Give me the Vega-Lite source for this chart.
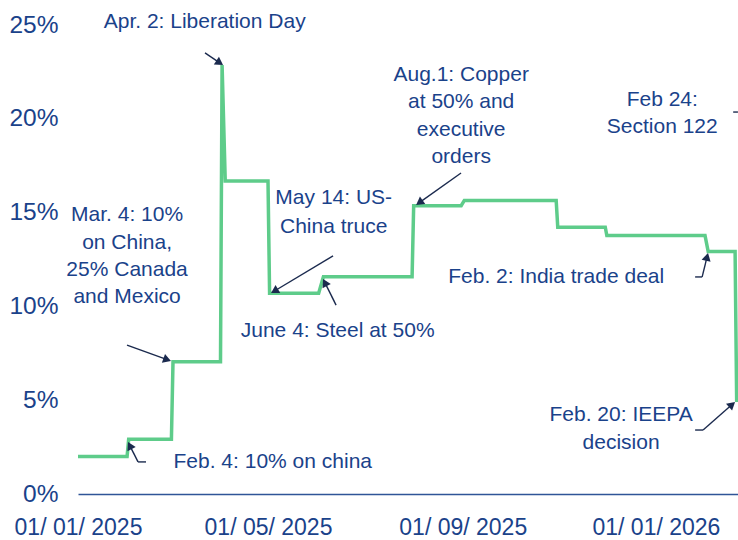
{
  "$schema": "https://vega.github.io/schema/vega-lite/v6.json",
  "width": 660,
  "height": 469,
  "autosize": {"type": "none"},
  "padding": {"left": 78, "top": 25, "right": 0, "bottom": 46},
  "background": "white",
  "config": {"view": {"stroke": null}, "font": "Liberation Sans"},
  "datasets": {
    "series": [
      {"date": "2025-01-01", "value": 2.0},
      {"date": "2025-02-01", "value": 2.0},
      {"date": "2025-02-02", "value": 2.92},
      {"date": "2025-03-01", "value": 2.92},
      {"date": "2025-03-02", "value": 7.05},
      {"date": "2025-04-01", "value": 7.05},
      {"date": "2025-04-02", "value": 22.87},
      {"date": "2025-04-04", "value": 16.68},
      {"date": "2025-05-01", "value": 16.68},
      {"date": "2025-05-02", "value": 10.70},
      {"date": "2025-06-02", "value": 10.70},
      {"date": "2025-06-05", "value": 11.58},
      {"date": "2025-07-31", "value": 11.58},
      {"date": "2025-08-01", "value": 15.37},
      {"date": "2025-08-31", "value": 15.37},
      {"date": "2025-09-02", "value": 15.65},
      {"date": "2025-10-30", "value": 15.65},
      {"date": "2025-10-31", "value": 14.22},
      {"date": "2025-11-30", "value": 14.22},
      {"date": "2025-12-01", "value": 13.78},
      {"date": "2026-02-01", "value": 13.78},
      {"date": "2026-02-03", "value": 12.92},
      {"date": "2026-02-20", "value": 12.92},
      {"date": "2026-02-21", "value": 4.90}
    ],
    "arrows": [
      {"date": "2025-03-22T05:00:00Z", "value": 23.51, "date2": "2025-03-31T12:00:00Z", "value2": 22.98},
      {"date": "2025-01-31T23:00:00Z", "value": 7.94, "date2": "2025-02-26T08:00:00Z", "value2": 7.16},
      {"date": "2025-02-12T23:00:00Z", "value": 1.71, "date2": "2025-02-07T22:00:00Z", "value2": 1.71},
      {"date": "2025-02-07T22:00:00Z", "value": 1.71, "date2": "2025-02-02T17:00:00Z", "value2": 2.58},
      {"date": "2025-06-11T02:00:00Z", "value": 12.69, "date2": "2025-05-05T02:00:00Z", "value2": 10.82},
      {"date": "2025-06-13T00:00:00Z", "value": 10.07, "date2": "2025-06-05T22:00:00Z", "value2": 11.27},
      {"date": "2025-08-30T22:00:00Z", "value": 17.11, "date2": "2025-08-04T14:00:00Z", "value2": 15.53},
      {"date": "2026-01-25T18:00:00Z", "value": 11.57, "date2": "2026-01-30T05:00:00Z", "value2": 11.57},
      {"date": "2026-01-30T05:00:00Z", "value": 11.57, "date2": "2026-02-02T07:00:00Z", "value2": 12.64},
      {"date": "2026-01-25T18:00:00Z", "value": 3.41, "date2": "2026-01-30T19:00:00Z", "value2": 3.41},
      {"date": "2026-01-30T19:00:00Z", "value": 3.41, "date2": "2026-02-18T02:00:00Z", "value2": 4.77},
      {"date": "2026-02-18T19:00:00Z", "value": 20.36, "date2": "2026-02-21T19:00:00Z", "value2": 20.36}
    ],
    "heads": [
      {"n": 1, "date": "2025-03-31T12:00:00Z", "value": 22.98},
      {"n": 2, "date": "2025-02-26T08:00:00Z", "value": 7.16},
      {"n": 3, "date": "2025-02-02T17:00:00Z", "value": 2.58},
      {"n": 4, "date": "2025-05-05T02:00:00Z", "value": 10.82},
      {"n": 5, "date": "2025-06-05T22:00:00Z", "value": 11.27},
      {"n": 6, "date": "2025-08-04T14:00:00Z", "value": 15.53},
      {"n": 7, "date": "2026-02-02T07:00:00Z", "value": 12.64},
      {"n": 8, "date": "2026-02-18T02:00:00Z", "value": 4.77}
    ],
    "labels": [
      {"date": "2025-03-22", "value": 25.16, "label": "Apr. 2: Liberation Day"},
      {"date": "2025-02-01", "value": 14.87, "label": "Mar. 4: 10%"},
      {"date": "2025-02-01", "value": 13.38, "label": "on China,"},
      {"date": "2025-02-01", "value": 11.94, "label": "25% Canada"},
      {"date": "2025-02-01", "value": 10.50, "label": "and Mexico"},
      {"date": "2025-06-11T12:00:00Z", "value": 15.78, "label": "May 14: US-"},
      {"date": "2025-06-11T12:00:00Z", "value": 14.25, "label": "China truce"},
      {"date": "2025-08-31", "value": 22.33, "label": "Aug.1: Copper"},
      {"date": "2025-08-31", "value": 20.91, "label": "at 50% and"},
      {"date": "2025-08-31", "value": 19.40, "label": "executive"},
      {"date": "2025-08-31", "value": 17.98, "label": "orders"},
      {"date": "2026-01-05", "value": 21.0, "label": "Feb 24:"},
      {"date": "2026-01-05", "value": 19.58, "label": "Section 122"},
      {"date": "2025-10-30", "value": 11.58, "label": "Feb. 2: India trade deal"},
      {"date": "2025-06-14", "value": 8.71, "label": "June 4: Steel at 50%"},
      {"date": "2025-05-04", "value": 1.72, "label": "Feb. 4: 10% on china"},
      {"date": "2025-12-10", "value": 4.21, "label": "Feb. 20: IEEPA"},
      {"date": "2025-12-10", "value": 2.72, "label": "decision"}
    ]
  },
  "encoding": {
    "x": {
      "field": "date",
      "type": "temporal",
      "scale": {
        "type": "utc",
        "domain": [
          {"year": 2025, "month": 1, "date": 1, "utc": true},
          {"year": 2026, "month": 2, "date": 21, "hours": 20, "utc": true}
        ]
      },
      "axis": {
        "title": null,
        "values": [
          {"year": 2025, "month": 1, "date": 1, "utc": true},
          {"year": 2025, "month": 5, "date": 1, "utc": true},
          {"year": 2025, "month": 9, "date": 1, "utc": true},
          {"year": 2026, "month": 1, "date": 1, "utc": true}
        ],
        "format": "%d/ %m/ %Y",
        "labelFlush": false,
        "labelOverlap": false,
        "labelBound": false,
        "ticks": false,
        "tickSize": 0,
        "grid": false,
        "domain": true,
        "domainColor": "#2F5597",
        "domainWidth": 1.5,
        "labelPadding": 22,
        "labelFontSize": 23,
        "labelColor": "#1A428A",
        "labelFont": "Liberation Sans"
      }
    },
    "y": {
      "field": "value",
      "type": "quantitative",
      "scale": {"domain": [0, 25], "nice": false, "zero": true},
      "axis": {
        "title": null,
        "values": [0, 5, 10, 15, 20, 25],
        "labelExpr": "datum.value + '%'",
        "ticks": false,
        "tickSize": 0,
        "grid": false,
        "domain": false,
        "labelPadding": 20,
        "labelFontSize": 24.5,
        "labelColor": "#1A428A",
        "labelFont": "Liberation Sans",
        "labelOverlap": false,
        "labelFlush": false,
        "labelBound": false
      }
    }
  },
  "layer": [
    {
      "data": {"name": "series"},
      "mark": {"type": "line", "color": "#5ECC8A", "strokeWidth": 3.5, "interpolate": "linear"}
    },
    {
      "data": {"name": "arrows"},
      "mark": {"type": "rule", "color": "#1B2A4E", "strokeWidth": 1.4},
      "encoding": {
        "x2": {"field": "date2"},
        "y2": {"field": "value2"}
      }
    },
    {
      "data": {"name": "heads"},
      "mark": {"type": "point", "shape": "triangle-up", "filled": true, "color": "#1B2A4E", "size": 85, "opacity": 1},
      "encoding": {
        "angle": {
          "field": "n",
          "type": "quantitative",
          "scale": {"type": "threshold", "domain": [1.5, 2.5, 3.5, 4.5, 5.5, 6.5, 7.5], "range": [123.7, 110, 333.4, 239.2, 333.4, 234.6, 14, 48.8]},
          "legend": null
        }
      }
    },
    {
      "data": {"name": "labels"},
      "mark": {"type": "text", "align": "center", "baseline": "middle", "fontSize": 21, "color": "#1A428A", "font": "Liberation Sans"},
      "encoding": {"text": {"field": "label"}}
    }
  ]
}
